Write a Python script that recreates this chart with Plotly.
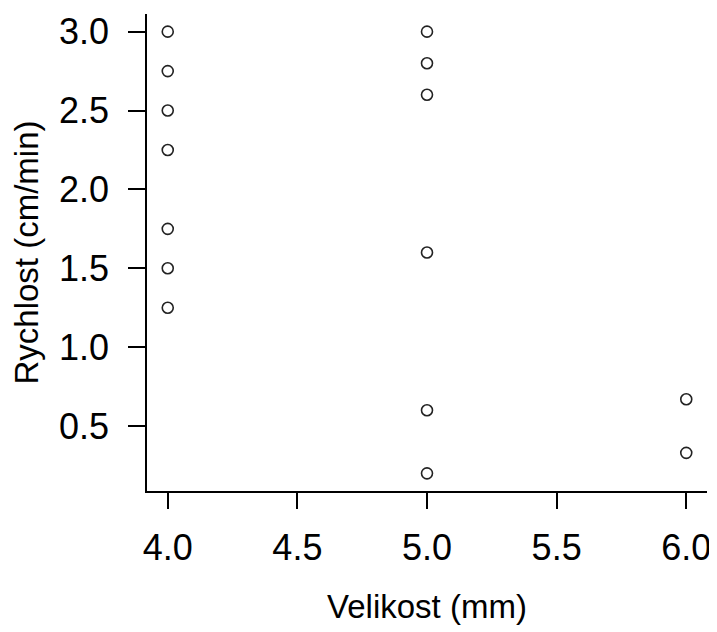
import plotly.graph_objects as go

velikost = [4, 4, 4, 4, 4, 4, 4, 5, 5, 5, 5, 5, 5, 6, 6]
rychlost = [3.0, 2.75, 2.5, 2.25, 1.75, 1.5, 1.25, 3.0, 2.8, 2.6, 1.6, 0.6, 0.2, 0.67, 0.33]
x_ticks = [4.0, 4.5, 5.0, 5.5, 6.0]
y_ticks = [0.5, 1.0, 1.5, 2.0, 2.5, 3.0]
x_title = "Velikost (mm)"
y_title = "Rychlost (cm/min)"

fig = go.Figure(go.Scatter(
    x=velikost, y=rychlost, mode="markers",
    marker=dict(symbol="circle-open", size=11, color="#222222", line=dict(width=1.6)),
    hoverinfo="x+y",
))

font = dict(family="Liberation Sans, Arial, sans-serif", color="black")

# page body has an 8px default margin, so the figure is sized/offset to compensate
fig.update_layout(
    width=709, height=624,
    margin=dict(l=139, r=10, t=3, b=141),
    paper_bgcolor="white", plot_bgcolor="white",
    showlegend=False,
    font=font,
)
fig.update_xaxes(
    range=[3.92, 6.08], tickvals=x_ticks, ticktext=[f"{v:.1f}" for v in x_ticks],
    showgrid=False, zeroline=False, showline=True, linecolor="black", linewidth=1.5,
    ticks="outside", ticklen=16, tickwidth=1.5, tickcolor="black",
    tickfont=dict(size=36, **font), ticklabelstandoff=8,
    title=dict(text=x_title, font=dict(size=33, **font), standoff=28),
)
fig.update_yaxes(
    range=[0.088, 3.112], tickvals=y_ticks, ticktext=[f"{v:.1f}" for v in y_ticks],
    showgrid=False, zeroline=False, showline=True, linecolor="black", linewidth=1.5,
    ticks="outside", ticklen=17, tickwidth=1.5, tickcolor="black",
    tickfont=dict(size=36, **font), ticklabelstandoff=12,
    title=dict(text=y_title, font=dict(size=33, **font), standoff=15),
)

fig.write_html("out.html")
